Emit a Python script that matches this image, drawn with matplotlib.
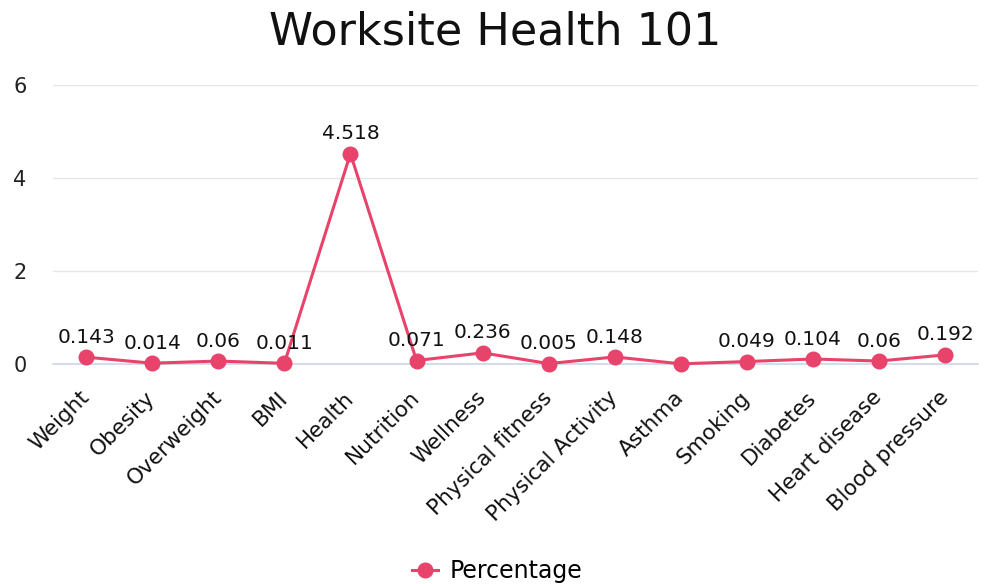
import matplotlib
matplotlib.use("Agg")
import matplotlib.pyplot as plt

# Share of mentions per health topic
topics = ["Weight", "Obesity", "Overweight", "BMI", "Health", "Nutrition",
          "Wellness", "Physical fitness", "Physical Activity", "Asthma",
          "Smoking", "Diabetes", "Heart disease", "Blood pressure"]
percentage = [0.143, 0.014, 0.06, 0.011, 4.518, 0.071, 0.236, 0.005,
              0.148, 0, 0.049, 0.104, 0.06, 0.192]
y_ticks = [0, 2, 4, 6]

color = "#e8436a"

fig = plt.figure(figsize=(9.84, 5.84), dpi=100)
ax = fig.add_axes([0.054, 0.377, 0.940, 0.478])

x = list(range(len(topics)))
ax.plot(x, percentage, color=color, linewidth=2.2, marker="o",
        markersize=10.5, label="Percentage", zorder=3, clip_on=False)

# value labels above each point (zero values are left unlabeled)
for xi, v in zip(x, percentage):
    if v == 0:
        continue
    ax.annotate(f"{v:g}", (xi, v), xytext=(0, 7.5), textcoords="offset points",
                ha="center", va="bottom", fontsize=14.5, color="#111111")

ax.set_xlim(-0.5, len(topics) - 0.5)
ax.set_ylim(0, 6)
ax.set_yticks(y_ticks)
ax.set_xticks(x)
ax.set_xticklabels(topics, rotation=45, ha="right", va="center",
                   rotation_mode="anchor", fontsize=15.5, color="#111111")
ax.tick_params(axis="y", length=0, labelsize=15, labelcolor="#222222", pad=19)
ax.tick_params(axis="x", length=0, pad=22)

ax.grid(axis="y", color="#e6e6e6", linewidth=1)
ax.set_axisbelow(True)
for side in ["top", "right", "left"]:
    ax.spines[side].set_visible(False)
ax.spines["bottom"].set_color("#ccd6eb")
ax.spines["bottom"].set_linewidth(1.2)

fig.text(0.503, 0.923, "Worksite Health 101", fontsize=32, color="#111111",
         ha="center", va="baseline")

fig.legend(loc="lower center", bbox_to_anchor=(0.505, -0.035), frameon=False,
           fontsize=17, handlelength=1.1, handletextpad=0.5)

plt.savefig("out.png", dpi=100)
plt.close()
